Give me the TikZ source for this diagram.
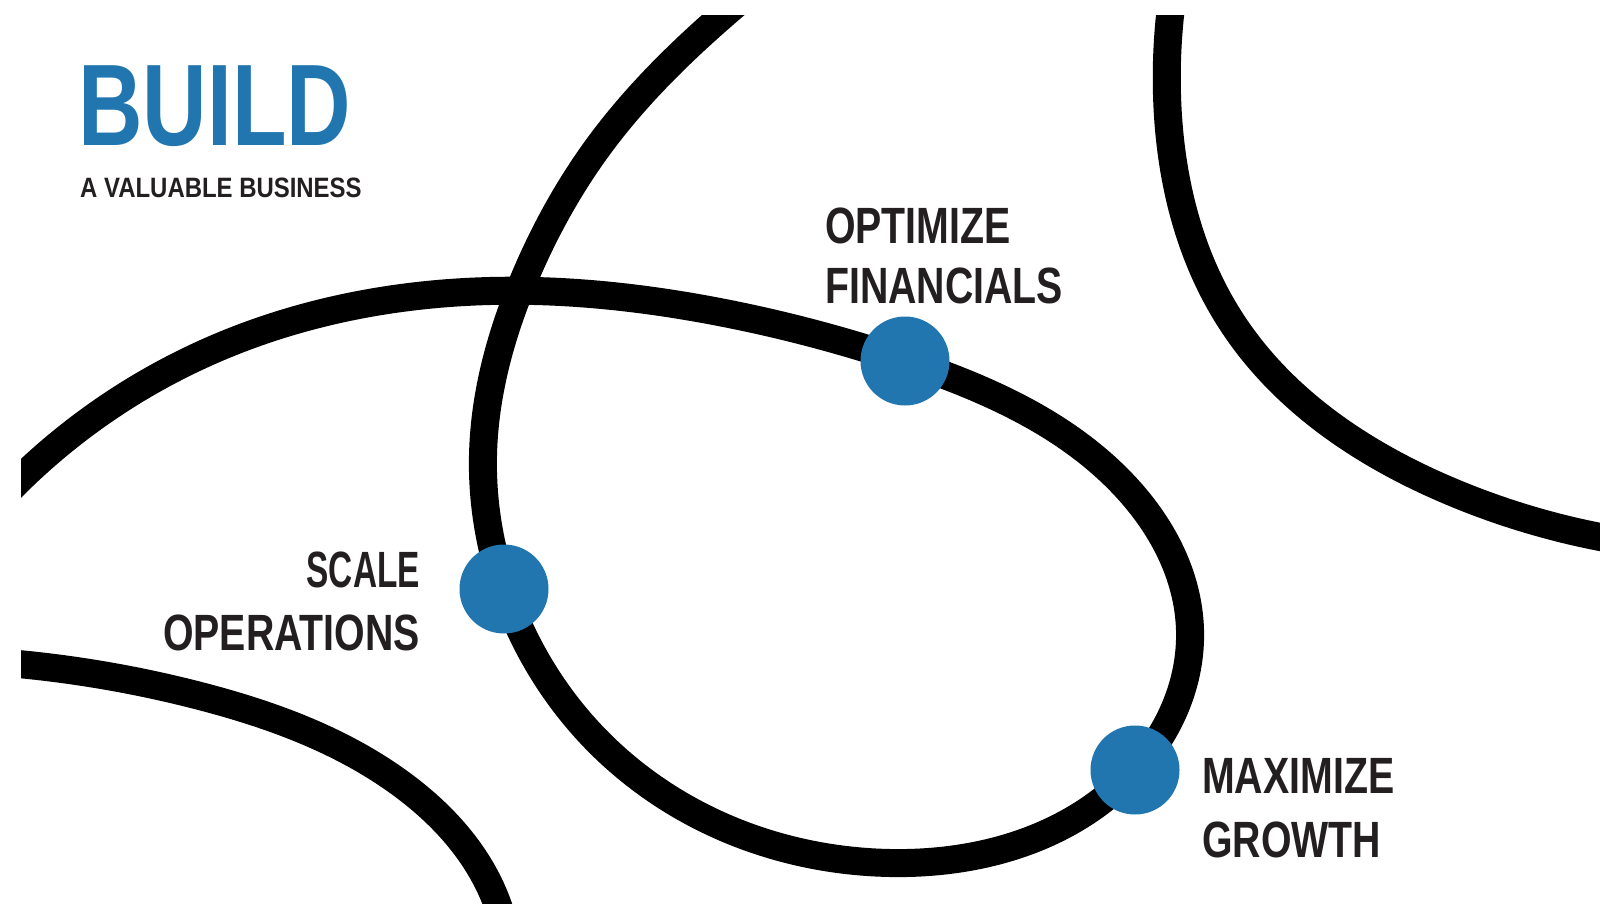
\documentclass[tikz,border=0pt]{standalone}
\usepackage{fontspec}
\usepackage{graphicx}
\usetikzlibrary{hobby}
\setmainfont{Liberation Sans}
\newfontfamily\handfont[FakeStretch=0.77]{Liberation Sans Bold}
\definecolor{dotblue}{HTML}{2176AF}
\definecolor{ink}{HTML}{231F20}
\begin{document}
\begin{tikzpicture}[x=1pt,y=-1pt,
  curve/.style={line width=28pt, black, use Hobby shortcut},
  dot/.style={circle, fill=dotblue, minimum size=89pt, inner sep=0pt},
  lbl/.style={text=ink, inner sep=0pt, font=\handfont\fontsize{51}{60}\selectfont}]
\useasboundingbox (0,0) rectangle (1600,904);
\fill[white] (0,0) rectangle (1600,904);
\begin{scope}
\clip (21,16) rectangle (1600,904);
% main loop
\draw[curve] (-40,546) .. (210,351) .. (490,291)
  .. (714,311) .. (905,361) .. (1122,483) .. (1190,630) .. (1135,770)
  .. (890,863) .. (612,755) .. (504,589) .. (483,455) .. (525,277)
  .. (601,143) .. (722,16) .. (770,-24);
% top right arc
\draw[curve] (1174,-15) .. (1167,95) .. (1231,321) .. (1452,492) .. (1650,545);
% bottom left arc
\draw[curve] (-20,661) .. (200,696) .. (400,783) .. (493,893) .. (505,930);
\end{scope}
% dots
\node[dot] (opt) at (905,361) {};
\node[dot] (scl) at (504,589) {};
\node[dot] (max) at (1135,770) {};
% title
\node[text=dotblue, inner sep=0pt, anchor=base west,
  font=\handfont\fontsize{116}{116}\selectfont] (title) at (78,146) {BUILD};
\node[text=ink, inner sep=0pt, anchor=base west,
  font=\handfont\fontsize{28}{30}\selectfont] (sub) at (80,197) {\scalebox{1.11}[1]{A VALUABLE BUSINESS}};
% labels
\node[lbl, anchor=base west] (optA) at (825,243) {OPTIMIZE};
\node[lbl, anchor=base west] (optB) at (825,303) {FINANCIALS};
\node[lbl, anchor=base east] (sclA) at (420,587) {\scalebox{0.85}[1]{SCALE}};
\node[lbl, anchor=base east] (sclB) at (420,650) {OPERATIONS};
\node[lbl, anchor=base west] (maxA) at (1202,793) {MAXIMIZE};
\node[lbl, anchor=base west] (maxB) at (1202,857) {GROWTH};
\end{tikzpicture}
\end{document}
